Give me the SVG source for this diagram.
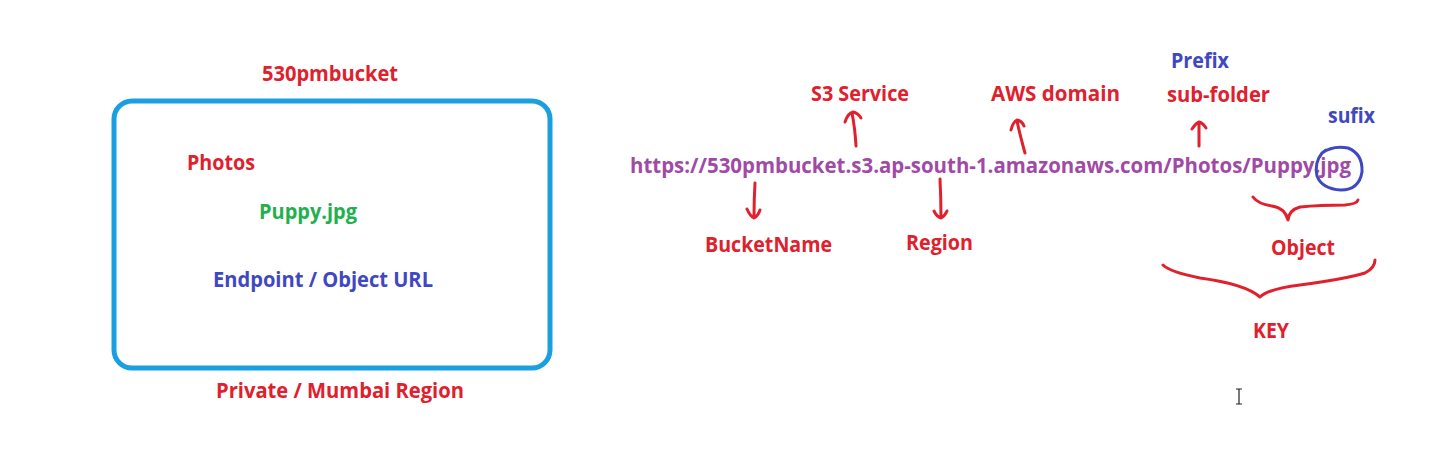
<svg xmlns="http://www.w3.org/2000/svg" width="1444" height="450" viewBox="0 0 1444 450">
<style>
text{font-family:"Open Sans","Noto Sans","Liberation Sans",sans-serif;font-weight:bold;font-size:21px}
.red{fill:#e0202c}
.blue{fill:#3f48c0}
.green{fill:#22b04c}
.purple{fill:#a04aa6}
.ink{fill:none;stroke:#e0202c;stroke-width:3;stroke-linecap:round;stroke-linejoin:round}
.bink{fill:none;stroke:#3f48c0;stroke-width:3;stroke-linecap:round}
</style>
<rect width="1444" height="450" fill="#ffffff"/>
<g id="bucket">
<rect x="114" y="101" width="436" height="267" rx="18" fill="none" stroke="#1aa0e0" stroke-width="5"/>
<text class="red" x="262" y="81" textLength="136" lengthAdjust="spacingAndGlyphs">530pmbucket</text>
<text class="red" x="187" y="170" textLength="68" lengthAdjust="spacingAndGlyphs">Photos</text>
<text class="green" x="259" y="219" textLength="98" lengthAdjust="spacingAndGlyphs">Puppy.jpg</text>
<text class="blue" x="213" y="287" textLength="220" lengthAdjust="spacingAndGlyphs">Endpoint / Object URL</text>
<text class="red" x="216" y="398" textLength="248" lengthAdjust="spacingAndGlyphs">Private / Mumbai Region</text>
</g>
<g id="url">
<text class="purple" x="630" y="173" textLength="721" lengthAdjust="spacingAndGlyphs">https://530pmbucket.s3.ap-south-1.amazonaws.com/Photos/Puppy.jpg</text>
</g>
<g id="labels">
<text class="red" x="811" y="101" textLength="98" lengthAdjust="spacingAndGlyphs">S3 Service</text>
<text class="red" x="991" y="101" textLength="129" lengthAdjust="spacingAndGlyphs">AWS domain</text>
<text class="blue" x="1171" y="68" textLength="58" lengthAdjust="spacingAndGlyphs">Prefix</text>
<text class="red" x="1167" y="102" textLength="103" lengthAdjust="spacingAndGlyphs">sub-folder</text>
<text class="blue" x="1328" y="123" textLength="47" lengthAdjust="spacingAndGlyphs">sufix</text>
<text class="red" x="705" y="252" textLength="127" lengthAdjust="spacingAndGlyphs">BucketName</text>
<text class="red" x="906" y="250" textLength="67" lengthAdjust="spacingAndGlyphs">Region</text>
<text class="red" x="1271" y="255" textLength="64" lengthAdjust="spacingAndGlyphs">Object</text>
<text class="red" x="1253" y="338" textLength="36" lengthAdjust="spacingAndGlyphs">KEY</text>
</g>
<g id="connectors">
<path class="ink" d="M856 146 Q855 128 852 113 M845 122 Q848 113 853 112 Q858 113 861 118"/>
<path class="ink" d="M1025 153 Q1020 135 1017 121 M1011 130 Q1013 122 1017 120 Q1022 121 1024 126"/>
<path class="ink" d="M1199 146 L1199 124 M1192 129 Q1196 123 1199 122 Q1203 123 1206 128"/>
<path class="ink" d="M755 183 Q754 200 754 217 M747 209 Q750 216 754 218 Q758 216 760 210"/>
<path class="ink" d="M940 179 Q941 198 941 218 M934 211 Q937 217 941 218 Q945 216 947 211"/>
<path class="bink" d="M1322 153 Q1333 145 1348 148 Q1363 154 1362 172 Q1359 190 1341 190 Q1322 189 1317 176 Q1314 163 1322 153 L1326 150"/>
<path class="ink" d="M1253 197 Q1258 204 1272 206 Q1285 208 1288 220 Q1289 210 1300 207 Q1320 205 1345 205 Q1357 204 1358 200"/>
<path class="ink" d="M1163 265 Q1170 272 1200 278 Q1245 284 1260 297 Q1268 289 1300 285 Q1345 279 1365 273 Q1375 268 1375 260"/>
</g>
<g id="cursor">
<path d="M1239 389 V404 M1236 389 H1242 M1236 404 H1242" stroke="#222" stroke-width="1.2" fill="none"/>
</g>
</svg>
